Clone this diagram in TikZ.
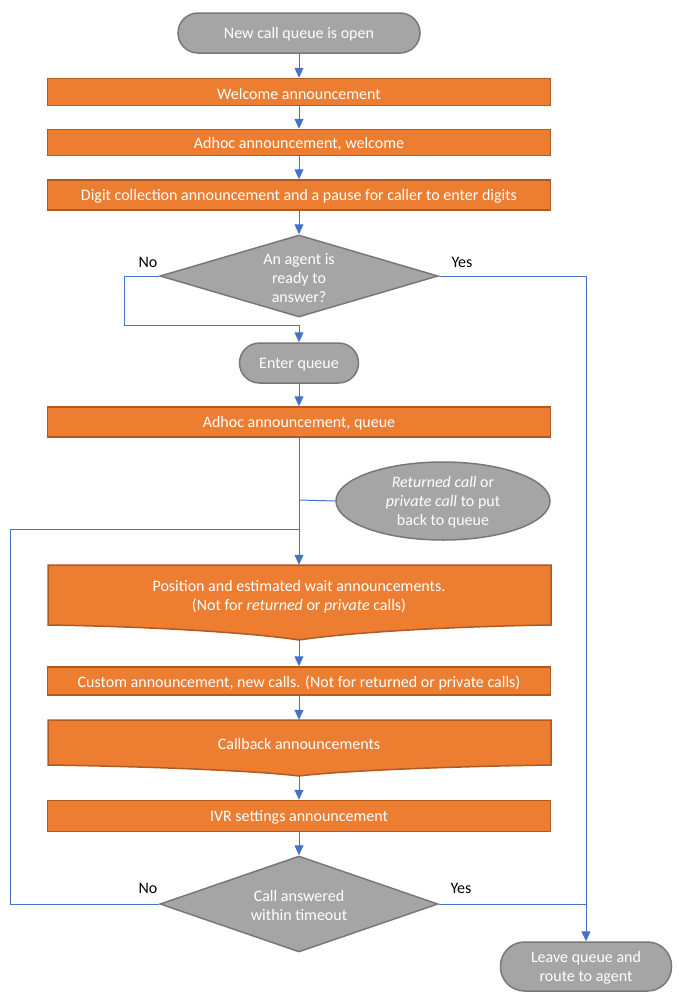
\documentclass[tikz,border=0pt]{standalone}
\usepackage{fontspec}
\setmainfont{Carlito}
\usetikzlibrary{shapes.geometric,arrows.meta}
\definecolor{orng}{HTML}{ED7D31}
\definecolor{orngb}{HTML}{AE5A21}
\definecolor{gry}{HTML}{A5A5A5}
\definecolor{gryb}{HTML}{787878}
\definecolor{blu}{HTML}{4472C4}
\newcommand{\lowr}[1]{\raisebox{-1.6pt}[\height][\depth]{#1}}
\begin{document}
\begin{tikzpicture}[x=1pt,y=-1pt,
  font=\fontsize{16}{19}\selectfont,
  procbox/.style={draw=orngb,fill=orng,line width=1.5pt,text=white,minimum width=503pt,inner sep=0pt,align=center},
  docshape/.style={draw=orngb,fill=orng,line width=1.5pt},
  term/.style={draw=gryb,fill=gry,line width=1.5pt,text=white,rounded corners=#1,inner sep=0pt,align=center},
  dec/.style={diamond,draw=gryb,fill=gry,line width=1.5pt,minimum width=278pt,inner sep=0pt},
  lbl/.style={text=white,align=center,inner sep=0pt},
  conn/.style={draw=blu,line width=1pt},
  arr/.style={conn,-{Triangle[length=10pt,width=9pt]}},
  yn/.style={text=black,inner sep=0pt}]
\useasboundingbox (0,0) rectangle (679,1004);

% nodes
\node[term=20, minimum width=242pt, minimum height=40pt] (start) at (299,33) {\lowr{New call queue is open}};
\node[procbox, minimum height=27pt] (welcome) at (299,92) {\lowr{Welcome announcement}};
\node[procbox, minimum height=26pt] (adw) at (299,142.5) {\lowr{Adhoc announcement, welcome}};
\node[procbox, minimum height=30pt] (digit) at (299,195) {\lowr{Digit collection announcement and a pause for caller to enter digits}};
\node[dec, minimum height=82pt] (d1) at (299,276) {};
\node[lbl] (d1t) at (299,276) {\lowr{An agent is}\\\lowr{ready to}\\\lowr{answer?}};
\node[term=20, minimum width=119pt, minimum height=40pt] (eq) at (299,363) {\lowr{Enter queue}};
\node[procbox, minimum height=30pt] (adq) at (299,422) {\lowr{Adhoc announcement, queue}};
\node[ellipse, draw=gryb, fill=gry, line width=1.5pt, text=white, align=center, inner sep=0pt,
      minimum width=214pt, minimum height=78pt] (ell) at (443,501)
      {\lowr{\textit{Returned call} or}\\\lowr{\textit{private call} to put}\\\lowr{back to queue}};

% position document shape
\draw[docshape] (48,565) -- (551,565) -- (551,625)
  .. controls (420,627) and (330,635) .. (299,640)
  .. controls (268,635) and (178,627) .. (48,625) -- cycle;
\node[lbl, minimum width=503pt, minimum height=60pt] (pos) at (299,595)
  {\lowr{Position and estimated wait announcements.}\\\lowr{(Not for \textit{returned} or \textit{private} calls)}};
\coordinate (posb) at (299,640);

\node[procbox, minimum height=28pt] (custom) at (299,681) {\lowr{Custom announcement, new calls. (Not for returned or private calls)}};

% callback document shape
\draw[docshape] (48,720) -- (551,720) -- (551,765)
  .. controls (420,767) and (330,772) .. (299,776)
  .. controls (268,772) and (178,767) .. (48,765) -- cycle;
\node[lbl, minimum width=503pt, minimum height=45pt] (cb) at (299,742.5) {\lowr{Callback announcements}};
\coordinate (cbb) at (299,776);

\node[procbox, minimum height=31pt] (ivr) at (299,816) {\lowr{IVR settings announcement}};
\node[dec, minimum height=96pt] (d2) at (299,904) {};
\node[lbl] (d2t) at (299,904) {\lowr{Call answered}\\\lowr{within timeout}};
\node[term=24, minimum width=171pt, minimum height=49pt] (leave) at (586,966.5) {\lowr{Leave queue and}\\\lowr{route to agent}};

% labels
\node[yn] (no1) at (148,261) {\lowr{No}};
\node[yn] (yes1) at (462,261) {\lowr{Yes}};
\node[yn] (no2) at (148,887) {\lowr{No}};
\node[yn] (yes2) at (461,887) {\lowr{Yes}};

% junction coordinates
\coordinate (nj) at (299,325);
\coordinate (ej) at (299,500);
\coordinate (lj) at (299,529);

% connectors
\draw[arr] (start) -- (welcome);
\draw[arr] (welcome) -- (adw);
\draw[arr] (adw) -- (digit);
\draw[arr] (digit) -- (d1);
\draw[arr] (d1.west) -- ++(-35,0) |- (nj) -- (eq);
\draw[arr] (d1.east) -| (leave);
\draw[arr] (eq) -- (adq);
\draw[arr] (adq) -- (pos.north);
\draw[conn] (ell.west) -- (ej);
\draw[conn] (d2.west) -- ++(-149,0) |- (lj);
\draw[arr] (posb) -- (custom);
\draw[arr] (custom) -- (cb.north);
\draw[arr] (cbb) -- (ivr);
\draw[arr] (ivr) -- (d2);
\draw[conn] (d2.east) -- (d2.east -| leave);
\end{tikzpicture}
\end{document}
